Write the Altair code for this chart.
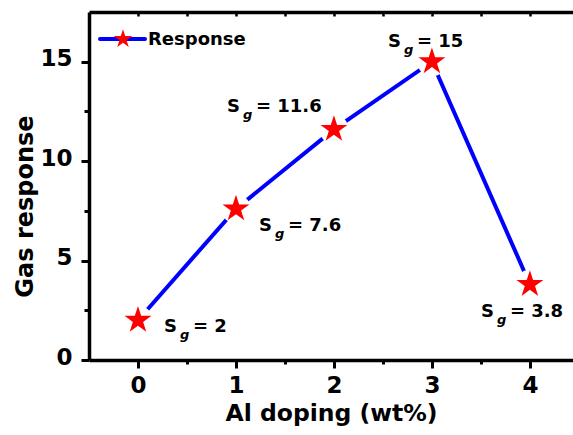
import altair as alt
import pandas as pd

# Gas response vs Al doping level
doping = [0, 1, 2, 3, 4]
response = [2, 7.6, 11.6, 15, 3.8]
value_text = ["2", "7.6", "11.6", "15", "3.8"]
series_name = ["Response"]

x_major = [0, 1, 2, 3, 4]
y_major = [0, 5, 10, 15]

df = pd.DataFrame({
    "i": list(range(len(doping))),
    "doping": doping,
    "response": response,
    "rest": ["= " + v for v in value_text],
})
legend_df = pd.DataFrame({"series": series_name})

FONT = "DejaVu Sans"
BLUE = "#0000FF"
RED = "#FF0000"
STAR = ("M0,-1L0.2245,-0.309L0.951,-0.309L0.363,0.118L0.588,0.809L0,0.382"
        "L-0.588,0.809L-0.363,0.118L-0.951,-0.309L-0.2245,-0.309Z")

x_scale = alt.Scale(domain=[-0.5, 4.44], nice=False, zero=False)
y_scale = alt.Scale(domain=[0, 17.5], nice=False, zero=False)

x_ticks = [v / 2 for v in range(0, 2 * max(x_major) + 1)]
y_ticks = [v * 2.5 for v in range(0, 2 * (max(y_major) // 5) + 1)]
top_ticks = [v / 2 for v in range(0, 2 * max(x_major) + 2)]

x_axis = alt.Axis(
    orient="bottom", values=x_ticks,
    labelExpr="datum.value % 1 === 0 ? format(datum.value, 'd') : ''",
    tickSize={"condition": {"test": "datum.value % 1 === 0", "value": 8}, "value": 4},
    tickWidth=3, tickColor="black", domainWidth=3.5, domainColor="black",
    labelFont=FONT, labelFontWeight="bold", labelFontSize=23, labelColor="black",
    labelPadding=6, labelFlush=False,
    title="Al doping (wt%)", titleFont=FONT, titleFontWeight="bold",
    titleFontSize=23.5, titleColor="black", titlePadding=4, grid=False,
)
y_axis = alt.Axis(
    orient="left", values=y_ticks,
    labelExpr="datum.value % 5 === 0 ? format(datum.value, 'd') : ''",
    tickSize={"condition": {"test": "datum.value % 5 === 0", "value": 8}, "value": 5},
    tickWidth=3, tickColor="black", domainWidth=3.5, domainColor="black",
    labelFont=FONT, labelFontWeight="bold", labelFontSize=23, labelColor="black",
    labelPadding=9, labelOffset=-3,
    title="Gas response", titleFont=FONT, titleFontWeight="bold",
    titleFontSize=24, titleColor="black", titleX=-57, titleY=194,
    titleBaseline="alphabetic", grid=False,
)

base = alt.Chart(df)
X = lambda axis=None: alt.X("doping:Q", scale=x_scale, axis=axis)
Y = lambda axis=None: alt.Y("response:Q", scale=y_scale, axis=axis)

line = base.mark_line(color=BLUE, strokeWidth=4, strokeCap="round").encode(
    x=X(x_axis), y=Y(y_axis))
gaps = base.mark_circle(color="white", opacity=1, size=860).encode(x=X(), y=Y())
stars = base.mark_point(shape=STAR, filled=True, color=RED, opacity=1, size=800).encode(
    x=X(), y=Y())

top_line = base.mark_point(opacity=0).encode(
    x=X(alt.Axis(orient="top", labels=False, ticks=False, domainWidth=3.5,
                 domainColor="black", title=None, grid=False)),
    y=Y())
top_ticks_layer = base.mark_point(opacity=0).encode(
    x=X(alt.Axis(orient="top", values=top_ticks, labels=False, domain=False,
                 ticks=True, tickSize=4, tickWidth=2.5, tickColor="black",
                 offset=-4, title=None, grid=False)),
    y=Y())

# value annotations "S_g = value"
offsets = [(27, 12), (24, 22), (-106, -17), (-43, -15), (-48, 33)]
text_style = dict(font=FONT, fontWeight="bold", color="black", align="left",
                  baseline="alphabetic")
labels = []
for i, (dx, dy) in enumerate(offsets):
    sub = base.transform_filter(f"datum.i == {i}")
    labels.append(sub.mark_text(text="S", fontSize=18, dx=dx - 1, dy=dy, **text_style)
                  .encode(x=X(), y=Y()))
    labels.append(sub.mark_text(text="g", fontSize=13, fontStyle="italic",
                                dx=dx + 15, dy=dy + 7, **text_style)
                  .encode(x=X(), y=Y()))
    labels.append(sub.mark_text(fontSize=18, dx=dx + 28, dy=dy, **text_style)
                  .encode(x=X(), y=Y(), text="rest:N"))

# legend
leg = alt.Chart(legend_df)
leg_line = leg.mark_rule(color=BLUE, strokeWidth=4, strokeCap="round").encode(
    x=alt.value(11), x2=alt.value(56), y=alt.value(27))
leg_star = leg.mark_point(shape=STAR, filled=True, color=RED, opacity=1, size=380).encode(
    x=alt.value(34), y=alt.value(27))
leg_text = leg.mark_text(fontSize=18, **text_style).encode(
    x=alt.value(59), y=alt.value(33), text="series:N")

chart = alt.layer(
    line, gaps, stars, top_line, top_ticks_layer, *labels, leg_line, leg_star, leg_text
).resolve_axis(x="independent", y="independent").properties(
    width=484, height=348,
    autosize=alt.AutoSizeParams(type="none"),
    padding={"left": 89, "top": 12, "right": 0, "bottom": 75},
).configure_view(stroke=None).configure(background="white")

chart.save("out.html", embed_options={"renderer": "svg", "actions": False})
